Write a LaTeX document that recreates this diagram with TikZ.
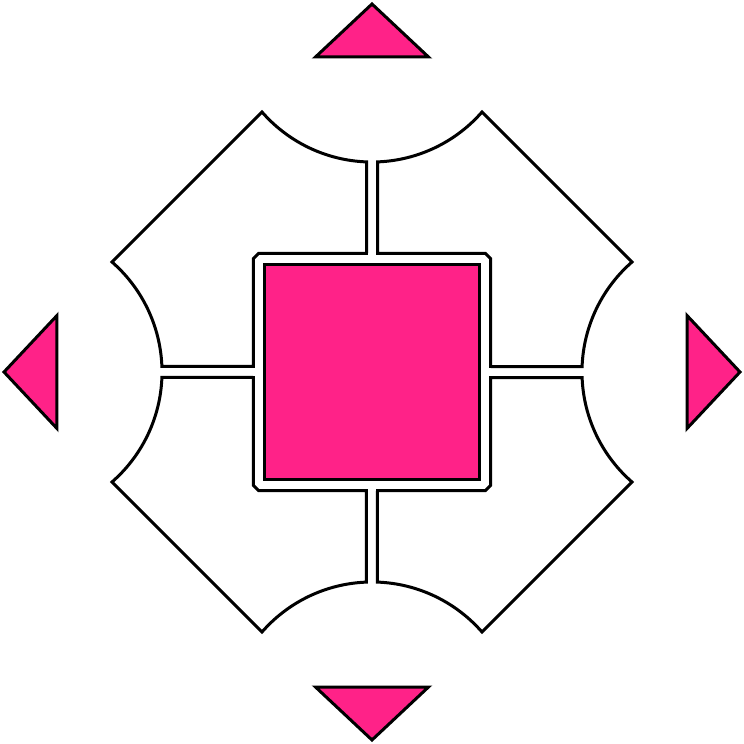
\documentclass[tikz,border=0pt]{standalone}
\usepackage{tikz}
\definecolor{squarepink}{RGB}{255,34,136}

\begin{document}
\begin{tikzpicture}[x=1pt, y=1pt, line width=3pt,
    cell/.style={draw=black, fill=white},
    pointer/.style={draw=black, fill=squarepink}]
    \useasboundingbox (-372,-372) rectangle (372,372);

    % four quarters and four triangles, turned round the centre
    \foreach \a in {0,90,180,270} {
        \begin{scope}[rotate=\a]
            \draw[cell] (-5.5,118.5) -- (-113.5,118.5) -- (-118.5,113.5) -- (-118.5,5.5)
                -- (-210.1,5.5) arc[start angle=2.16, end angle=48.9, radius=146]
                -- (-110,260) arc[start angle=221.1, end angle=267.84, radius=146]
                -- cycle;
            \draw[pointer] (0,368) -- (-56.5,315) -- (56.5,315) -- cycle;
        \end{scope}
    }

    \draw[pointer] (-107,-107) rectangle (107,107);
\end{tikzpicture}
\end{document}
